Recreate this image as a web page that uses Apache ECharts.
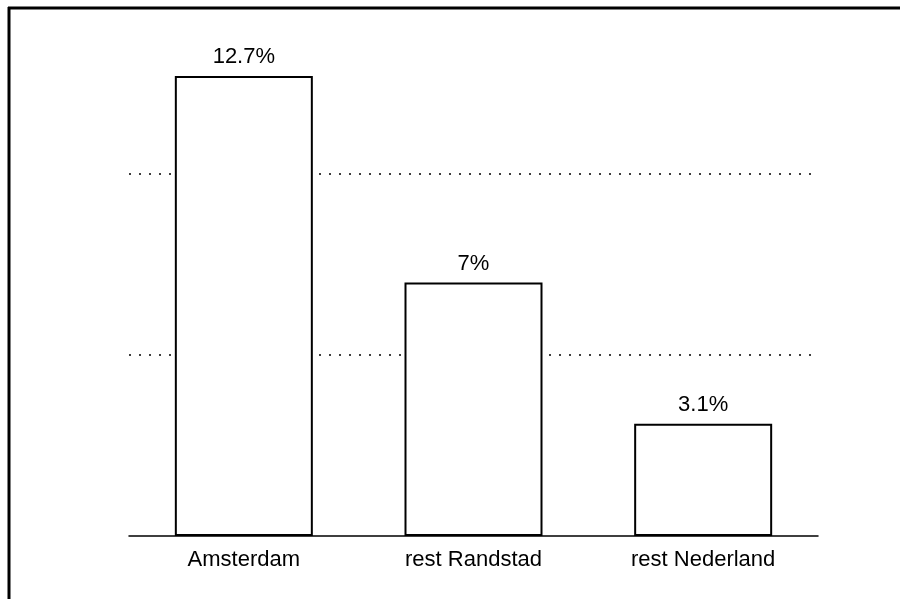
<!DOCTYPE html>
<html>
<head>
<meta charset="utf-8">
<script src="https://cdn.jsdelivr.net/npm/echarts@6/dist/echarts.min.js"></script>
<style>
  html, body { margin: 0; padding: 0; background: #fff; }
  #chart { width: 900px; height: 599px; }
</style>
</head>
<body>
<div id="chart"></div>
<script>
// Region categories and their percentages
const categories = ['Amsterdam', 'rest Randstad', 'rest Nederland'];
const values = [12.7, 7, 3.1];
const valueLabels = ['12.7%', '7%', '3.1%'];

const chart = echarts.init(document.getElementById('chart'), null, { renderer: 'canvas' });

const FONT = 'Liberation Sans, Arial, Helvetica, sans-serif';

chart.setOption({
  animation: false,
  backgroundColor: '#fff',
  grid: { left: 129, right: 82, top: 29, bottom: 63, containLabel: false },
  xAxis: {
    type: 'category',
    data: categories,
    axisLine: { show: true, lineStyle: { color: '#000', width: 1.5 } },
    axisTick: { show: false },
    axisLabel: { color: '#000', fontFamily: FONT, fontSize: 22, margin: 13 }
  },
  yAxis: {
    type: 'value',
    min: 0,
    max: 14,
    interval: 5,
    axisLine: { show: false },
    axisTick: { show: false },
    axisLabel: { show: false },
    splitLine: {
      show: true,
      showMinLine: false,
      showMaxLine: false,
      lineStyle: { color: '#000', width: 1.5, type: [2, 8] }
    }
  },
  series: [{
    type: 'bar',
    data: values,
    barWidth: 138,
    itemStyle: { color: '#fff', borderColor: '#000', borderWidth: 2 },
    label: {
      show: true,
      position: 'top',
      distance: 8,
      color: '#000',
      fontFamily: FONT,
      fontSize: 22,
      formatter: p => valueLabels[p.dataIndex]
    }
  }],
  graphic: [
    { type: 'line', shape: { x1: 8, y1: 8, x2: 900, y2: 8 }, style: { stroke: '#000', lineWidth: 3 } },
    { type: 'line', shape: { x1: 9, y1: 7, x2: 9, y2: 599 }, style: { stroke: '#000', lineWidth: 3 } }
  ]
});
</script>
</body>
</html>
